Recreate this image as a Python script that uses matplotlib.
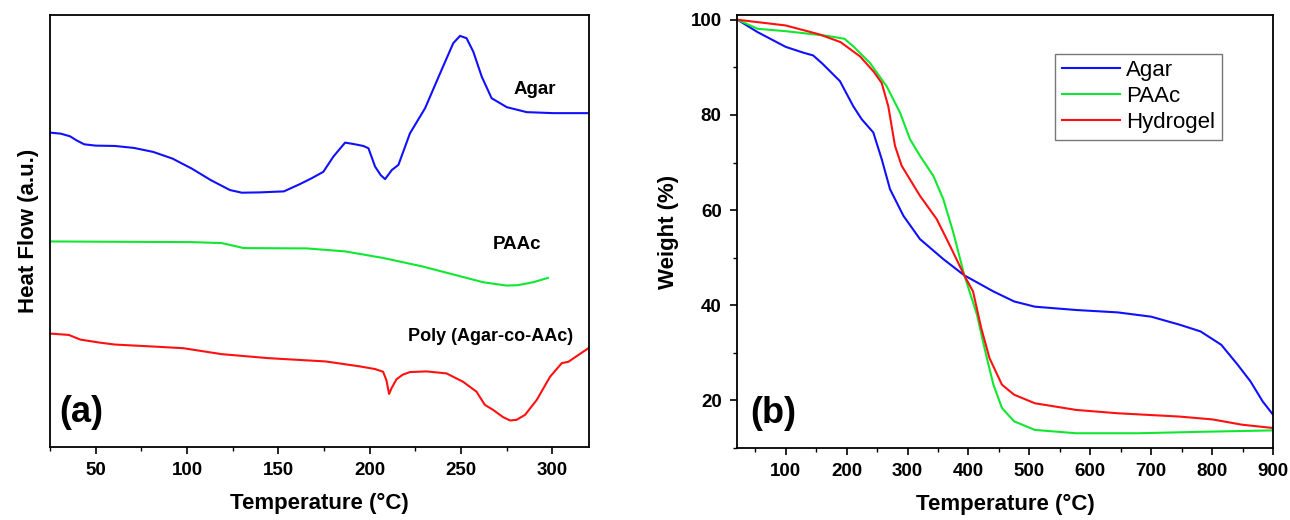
import matplotlib
matplotlib.use("Agg")
import matplotlib.pyplot as plt
from matplotlib.ticker import MultipleLocator

plt.rcParams['font.family'] = ['Liberation Sans', 'DejaVu Sans']

# ---- (a) DSC data (arbitrary units, given as read-off chart heights) ----
dsc_agar_T = [25.4, 31, 36, 39.5, 43.7, 50, 60.5, 71, 81.5, 92, 102.5, 113, 123.5, 130, 140, 153,
              161.8, 168, 174.6, 180.1, 186.5, 191, 196.5, 199.3, 202.9, 206, 208.4, 212, 215.7,
              222, 230.3, 238.5, 245.7, 249.4, 253, 256.7, 261.3, 266.7, 275, 285.9, 300.5, 320.4]
dsc_agar_px = [397, 400, 408, 420, 432, 436, 437, 443, 455, 475, 505, 540, 570, 578, 577, 574,
               552, 535, 515, 469, 427, 431, 437, 444, 499, 525, 537, 510, 494,
               399, 323, 218, 127, 105, 112, 153, 228, 293, 320, 335, 338, 338]
dsc_paac_T = [25.4, 60.5, 102.5, 119, 125.5, 131, 165.5, 186.5, 207.5, 228.5, 249.5, 262, 274.8,
              281, 289.5, 297.5]
dsc_paac_px = [725, 726, 727, 730, 738, 745, 746, 755, 775, 800, 830, 848, 858, 857, 848, 835]
dsc_gel_T = [25.4, 35.3, 41.6, 52, 60.5, 81.5, 98, 119, 144.5, 176, 194.7, 203, 207.3, 209.1,
             210.6, 211.9, 214.6, 218, 222, 231, 242, 251, 258.4, 263, 267.5, 273, 276.8, 280.4,
             285, 291.4, 298.7, 305.1, 308.7, 320.5]
dsc_gel_px = [1003, 1007, 1021, 1030, 1036, 1042, 1047, 1065, 1077, 1087, 1102, 1110, 1118, 1143,
              1185, 1168, 1141, 1127, 1119, 1117, 1123, 1148, 1178, 1218, 1233, 1255, 1265, 1263,
              1248, 1203, 1133, 1092, 1088, 1044]

def to_hf(px):
    return [(1345 - p) / 13.03 for p in px]

# ---- (b) TGA data ----
tga_agar_T = [21, 53.8, 100, 128.5, 145, 160, 189, 211, 224.7, 243.8, 257.6, 271.2, 293.2, 320.4,
              358.7, 393, 441, 475, 509, 577, 645, 700, 747, 781, 815, 842, 863, 883, 900]
tga_agar_W = [100, 97.4, 94.3, 93.1, 92.5, 90.8, 87.1, 81.8, 79.1, 76.3, 70.7, 64.4, 58.8, 53.9,
              49.7, 46.3, 42.9, 40.8, 39.7, 39, 38.5, 37.6, 35.9, 34.5, 31.7, 27.5, 24, 19.8, 17]
tga_paac_T = [21, 53.8, 100, 135, 169, 196.5, 211, 238.4, 265.8, 287.6, 304, 320.4, 342.3, 358.7,
              375.1, 393, 414, 427.6, 441, 455, 475, 509, 577, 679, 781, 900]
tga_paac_W = [100, 98.1, 97.6, 97.1, 96.6, 96, 94.4, 90.9, 86, 80.5, 74.9, 71.4, 67.2, 62.3,
              55.3, 46.4, 38, 30.3, 23.3, 18.4, 15.6, 13.8, 13.1, 13.1, 13.4, 13.7]
tga_gel_T = [21, 100, 156, 190, 222, 245, 257.6, 268.4, 279.4, 290.4, 320.4, 347.9, 369.7, 393,
             407.5, 421, 434.5, 455, 475, 509, 577, 645, 747, 801, 849, 900]
tga_gel_W = [100, 98.8, 96.9, 95.3, 92.3, 89, 86.7, 81.8, 73.5, 69.3, 63, 58.1, 52.5, 46.3,
             42.9, 35.2, 28.9, 23.3, 21.2, 19.4, 18, 17.3, 16.6, 16, 14.9, 14.2]

BLUE = '#1010ff'
GREEN = '#10e830'
RED = '#ff1010'

fig = plt.figure(figsize=(12.9, 5.2), dpi=100)
ax1 = fig.add_axes([50/1290, 1-447/520, 539/1290, 432/520])
ax2 = fig.add_axes([737/1290, 1-448/520, 536/1290, 433/520])

lw = 1.5
ax1.plot(dsc_agar_T, to_hf(dsc_agar_px), color=BLUE, lw=lw)
ax1.plot(dsc_paac_T, to_hf(dsc_paac_px), color=GREEN, lw=lw)
ax1.plot(dsc_gel_T, to_hf(dsc_gel_px), color=RED, lw=lw)
ax1.set_xlim(25, 320)
ax1.set_ylim(0, 100)
ax1.set_yticks([])
ax1.xaxis.set_major_locator(MultipleLocator(50))
ax1.xaxis.set_minor_locator(MultipleLocator(25))
ax1.set_xlabel('Temperature (°C)', fontsize=16, fontweight='bold', labelpad=10)
ax1.set_ylabel('Heat Flow (a.u.)', fontsize=16, fontweight='bold', labelpad=8)
ax1.text(290.5, (1345-268)/13.03, 'Agar', fontsize=13.5, fontweight='bold', ha='center', va='center')
ax1.text(280.5, (1345-735)/13.03, 'PAAc', fontsize=13.5, fontweight='bold', ha='center', va='center')
ax1.text(266, (1345-1013)/13.03, 'Poly (Agar-co-AAc)', fontsize=13, fontweight='bold', ha='center', va='center')
ax1.text(0.058, 0.08, '(a)', transform=ax1.transAxes, fontsize=26, fontweight='bold', ha='center', va='center')

ax2.plot(tga_agar_T, tga_agar_W, color=BLUE, lw=lw, label='Agar')
ax2.plot(tga_paac_T, tga_paac_W, color=GREEN, lw=lw, label='PAAc')
ax2.plot(tga_gel_T, tga_gel_W, color=RED, lw=lw, label='Hydrogel')
ax2.set_xlim(20, 900)
ax2.set_ylim(10, 101)
ax2.xaxis.set_major_locator(MultipleLocator(100))
ax2.xaxis.set_minor_locator(MultipleLocator(50))
ax2.yaxis.set_major_locator(MultipleLocator(20))
ax2.yaxis.set_minor_locator(MultipleLocator(10))
ax2.set_xlabel('Temperature (°C)', fontsize=16, fontweight='bold', labelpad=10)
ax2.set_ylabel('Weight (%)', fontsize=16, fontweight='bold', labelpad=8)
ax2.text(0.068, 0.08, '(b)', transform=ax2.transAxes, fontsize=26, fontweight='bold', ha='center', va='center')
leg = ax2.legend(loc='upper right', bbox_to_anchor=(0.905, 0.911), fontsize=16, frameon=True,
                 fancybox=False, edgecolor='#555555', handlelength=2.6, borderpad=0.3,
                 labelspacing=0.22, handletextpad=0.3, borderaxespad=0)
leg.get_frame().set_linewidth(1.0)

for ax in (ax1, ax2):
    for s in ax.spines.values():
        s.set_linewidth(1.3)
    ax.tick_params(which='major', direction='out', length=5, width=1.2, labelsize=13.5, pad=6)
    ax.tick_params(which='minor', direction='out', length=3, width=1.0)
    for lab in ax.get_xticklabels() + ax.get_yticklabels():
        lab.set_fontweight('bold')

fig.savefig('out.png', dpi=100)
